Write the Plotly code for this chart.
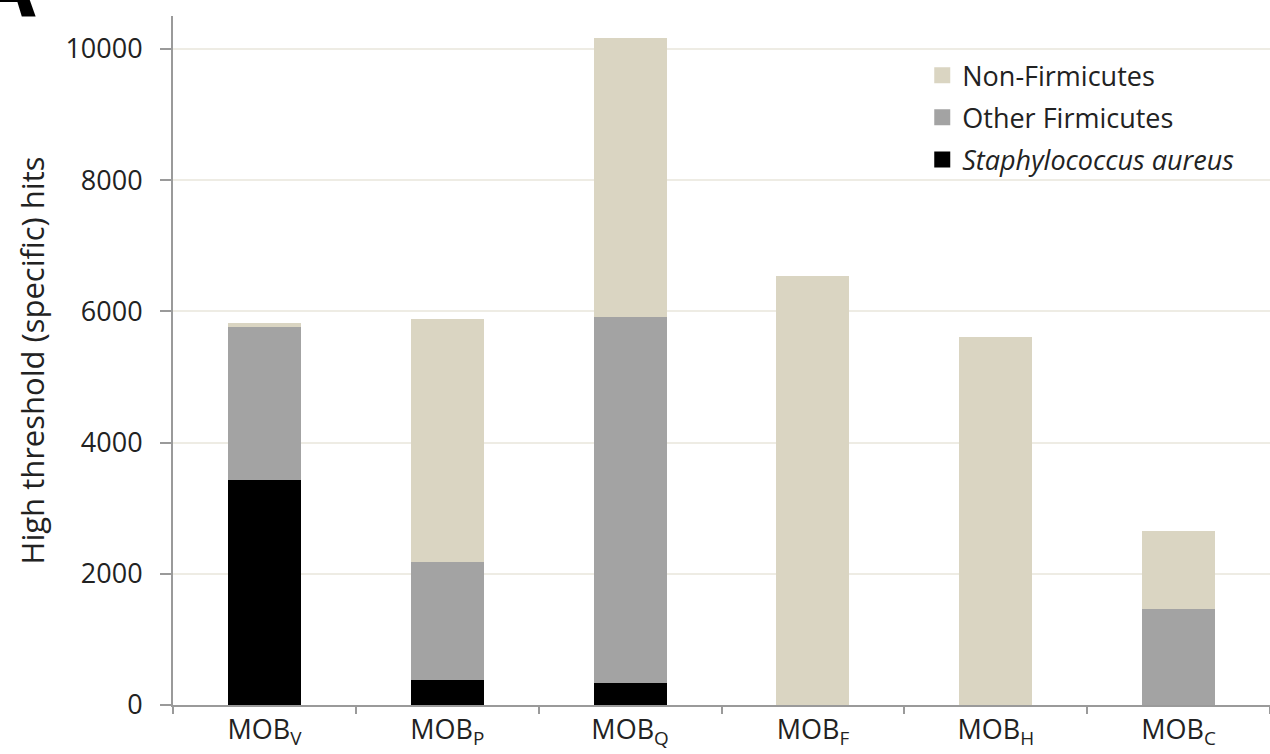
import plotly.graph_objects as go

categories = ["MOB<sub>V</sub>", "MOB<sub>P</sub>", "MOB<sub>Q</sub>", "MOB<sub>F</sub>", "MOB<sub>H</sub>", "MOB<sub>C</sub>"]
s_aureus = [3430, 385, 335, 0, 0, 0]
other_firmicutes = [2330, 1795, 5580, 0, 0, 1465]
non_firmicutes = [60, 3705, 4250, 6540, 5610, 1190]
y_ticks = [0, 2000, 4000, 6000, 8000, 10000]

series = [
    ("<i>Staphylococcus aureus</i>", s_aureus, "#000000"),
    ("Other Firmicutes", other_firmicutes, "#A3A3A3"),
    ("Non-Firmicutes", non_firmicutes, "#DAD5C2"),
]

FONT = "Open Sans, Liberation Sans, sans-serif"

fig = go.Figure()
for name, vals, col in series:
    fig.add_trace(go.Bar(x=categories, y=vals, name=name, marker_color=col,
                         marker_line_width=0, showlegend=False))
# legend entries with larger square swatches (top to bottom: Non, Other, S. aureus)
for i, (name, vals, col) in enumerate(reversed(series)):
    fig.add_trace(go.Scatter(x=[None], y=[None], mode="markers", name=name,
                             legendgroup=f"g{i}",
                             marker=dict(symbol="square", size=18, color=col)))

fig.update_layout(
    width=1270, height=754,
    margin=dict(l=173, r=0, t=16, b=49),
    barmode="stack", bargap=0.6,
    plot_bgcolor="white", paper_bgcolor="white",
    font=dict(family=FONT, size=27, color="#222222"),
    legend=dict(x=0.683, y=0.949, xanchor="left", yanchor="top",
                font=dict(size=27), traceorder="grouped", tracegroupgap=4,
                bgcolor="rgba(0,0,0,0)"),
    xaxis=dict(showline=True, linecolor="#9a9a9a", linewidth=2,
               ticks="outside", tickson="boundaries", ticklen=7,
               tickcolor="#9a9a9a", tickwidth=2, tickfont=dict(size=27)),
    yaxis=dict(range=[0, 10500], tickvals=y_ticks, tickformat="d",
               showline=True,
               linecolor="#9a9a9a", linewidth=2, ticks="outside", ticklen=11,
               tickcolor="#9a9a9a", tickwidth=2, showgrid=True,
               gridcolor="#EEECE4", gridwidth=2, zeroline=False,
               ticklabelstandoff=12, tickfont=dict(size=27),
               title=dict(text="High threshold (specific) hits",
                          font=dict(size=31), standoff=12)),
)

fig.add_annotation(text="<b>A</b>", xref="paper", yref="paper",
                   x=0, y=1, xanchor="center", yanchor="bottom",
                   xshift=-167, yshift=-27, showarrow=False,
                   font=dict(size=85, color="black"))

fig.write_html("out.html", config={"displayModeBar": False},
               post_script="document.body.style.margin='0';document.body.style.overflow='hidden';")
